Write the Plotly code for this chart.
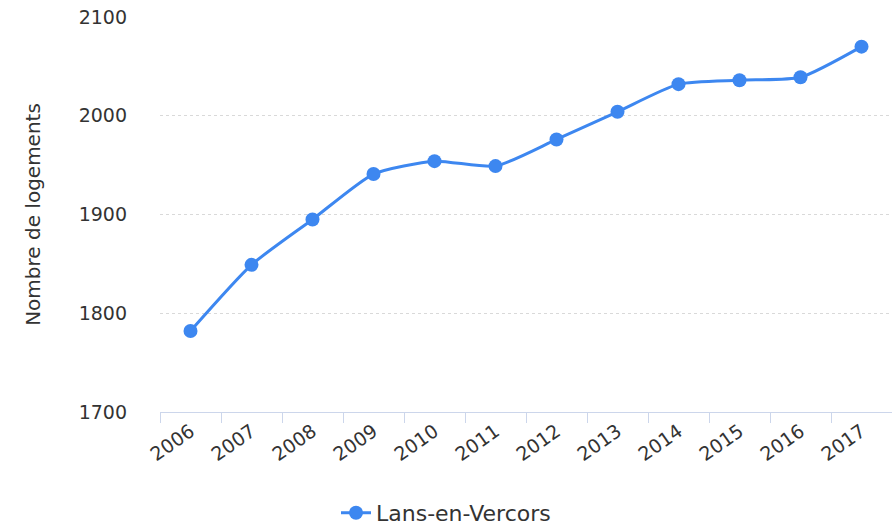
import plotly.graph_objects as go

years = ["2006", "2007", "2008", "2009", "2010", "2011",
         "2012", "2013", "2014", "2015", "2016", "2017"]
logements = [1782, 1849, 1895, 1941, 1954, 1949,
             1976, 2004, 2032, 2036, 2039, 2070]
series_name = "Lans-en-Vercors"
y_ticks = [1700, 1800, 1900, 2000, 2100]

BLUE = "#3d87f0"
AXIS = "#ccd6eb"
TEXT = "#333333"
FONT = "DejaVu Sans"

fig = go.Figure()
fig.add_trace(go.Scatter(
    x=years, y=logements, mode="lines+markers", name=series_name,
    line=dict(color=BLUE, width=3, shape="spline", smoothing=0.6),
    marker=dict(color=BLUE, size=14),
))

fig.update_layout(
    width=892, height=531,
    margin=dict(l=160, r=0, t=17, b=119, autoexpand=False),
    paper_bgcolor="white", plot_bgcolor="white",
    font=dict(family=FONT, color=TEXT, size=17),
    showlegend=True,
    legend=dict(
        orientation="h", xref="container", yref="container",
        x=0.5, xanchor="center", y=0.034, yanchor="middle",
        font=dict(size=22, color=TEXT),
    ),
)
fig.update_xaxes(
    type="category", tickson="boundaries", range=[-0.5, 11.5],
    automargin=False,
    showline=True, linecolor=AXIS, linewidth=1,
    ticks="outside", ticklen=10, tickcolor=AXIS, tickwidth=1,
    tickangle=-35, showgrid=False, zeroline=False,
    tickfont=dict(size=19, color=TEXT),
)
fig.update_yaxes(
    range=[1700, 2100], tickvals=y_ticks, automargin=False,
    showgrid=True, gridcolor="#d9d9d9", griddash="dot", gridwidth=1,
    zeroline=False, showline=False, ticklabelstandoff=32,
    tickfont=dict(size=19, color=TEXT),
    title=dict(text="Nombre de logements", standoff=32, font=dict(size=20, color=TEXT)),
)

fig.write_html("out.html", config={"displayModeBar": False},
               post_script="document.body.style.margin='0';")
